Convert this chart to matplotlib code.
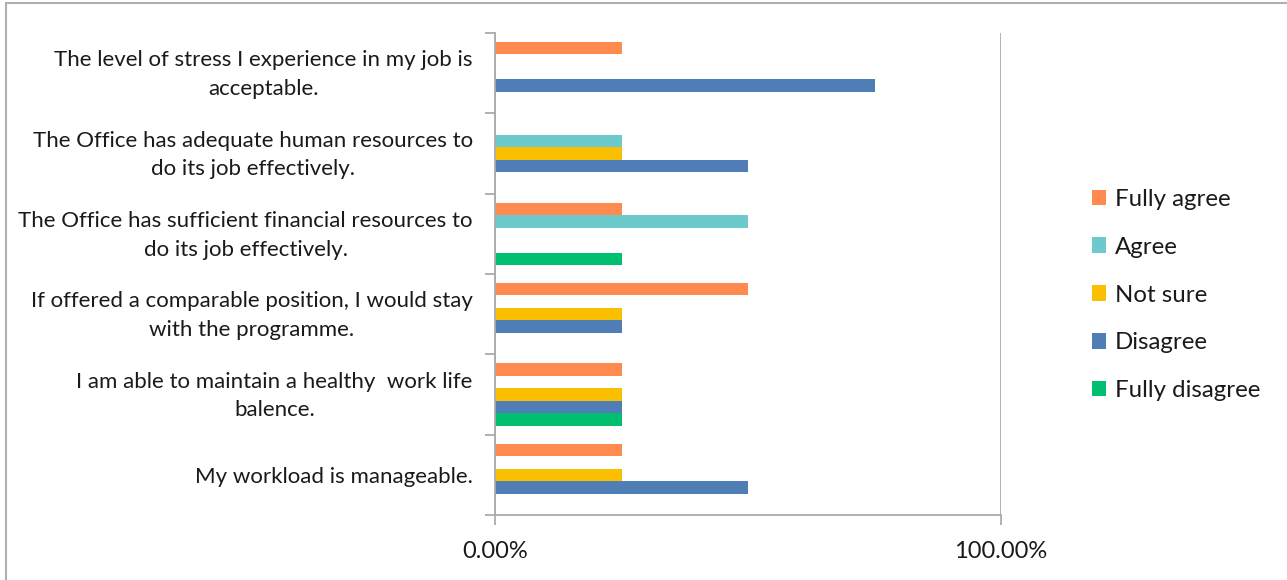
import matplotlib.pyplot as plt
import numpy as np
from matplotlib.patches import Rectangle
from matplotlib.ticker import FixedLocator, PercentFormatter
from matplotlib.transforms import ScaledTranslation

plt.rcParams["font.family"] = ["Lato", "DejaVu Sans"]

# survey statements, bottom to top
categories = [
    "My workload is manageable.",
    "I am able to maintain a healthy  work life\nbalence.",
    "If offered a comparable position, I would stay\nwith the programme.",
    "The Office has sufficient financial resources to\ndo its job effectively.",
    "The Office has adequate human resources to\ndo its job effectively.",
    "The level of stress I experience in my job is\nacceptable.",
]
series_names = ["Fully agree", "Agree", "Not sure", "Disagree", "Fully disagree"]
fully_agree = [0.25, 0.25, 0.50, 0.25, 0.00, 0.25]
agree = [0.00, 0.00, 0.00, 0.50, 0.25, 0.00]
not_sure = [0.25, 0.25, 0.25, 0.00, 0.25, 0.00]
disagree = [0.50, 0.25, 0.25, 0.00, 0.50, 0.75]
fully_disagree = [0.00, 0.25, 0.00, 0.25, 0.00, 0.00]
colors = ["#FF8B50", "#6CC9CC", "#F9BF00", "#4F7DB6", "#00BF6F"]

axis_grey = "#ABABAB"
text_col = "#1A1A1A"

fig = plt.figure(figsize=(12.87, 5.80), dpi=100)
ax = fig.add_axes([495 / 1287, 1 - 515 / 580, 506 / 1287, 482 / 580])

y = np.arange(len(categories))
h = 0.156
values = [fully_agree, agree, not_sure, disagree, fully_disagree]
for i, (name, vals, col) in enumerate(zip(series_names, values, colors)):
    ax.barh(y + (2 - i) * h, vals, height=h, color=col, linewidth=0, label=name)

ax.set_xlim(0, 1)
ax.set_ylim(-0.5, len(categories) - 0.5)

# category boundaries get the tick marks, labels sit on minor ticks
ax.yaxis.set_major_locator(FixedLocator(np.arange(-0.5, len(categories))))
ax.yaxis.set_minor_locator(FixedLocator(y))
ax.set_yticklabels([], minor=False)
ax.tick_params(axis="y", which="major", length=7, width=1.3, color=axis_grey)
ax.tick_params(axis="y", which="minor", length=0, pad=16)
labels = ax.set_yticklabels(categories, minor=True, fontsize=16, color=text_col,
                            multialignment="center", linespacing=1.55)
# two-line labels sit a little high in their band
lift = ScaledTranslation(0, 5 / 100, fig.dpi_scale_trans)
for lab in labels:
    if "\n" in lab.get_text():
        lab.set_transform(lab.get_transform() + lift)

ax.set_xticks([0, 1])
ax.xaxis.set_major_formatter(PercentFormatter(1.0, decimals=2))
ax.tick_params(axis="x", length=7, width=1.3, color=axis_grey, pad=12,
               labelsize=17, labelcolor=text_col)
ax.xaxis.grid(True, color=axis_grey, linewidth=1.3)
ax.set_axisbelow(True)

for side in ["top", "right"]:
    ax.spines[side].set_visible(False)
for side in ["left", "bottom"]:
    ax.spines[side].set_color(axis_grey)
    ax.spines[side].set_linewidth(1.3)

ax.legend(loc="center left", bbox_to_anchor=(1092 / 1287, 1 - 295 / 580),
          bbox_transform=fig.transFigure, frameon=False, fontsize=17.3,
          borderpad=0, borderaxespad=0,
          handlelength=0.6, handleheight=0.6, handletextpad=0.35,
          labelspacing=1.12, labelcolor=text_col)

# chart frame
fig.patches.append(Rectangle((6 / 1287, -0.5), 2, 0.5 + 1 - 3 / 580,
                             transform=fig.transFigure, fill=False,
                             edgecolor="#B0B0B0", linewidth=1.5))

fig.savefig("out.png", dpi=100)
